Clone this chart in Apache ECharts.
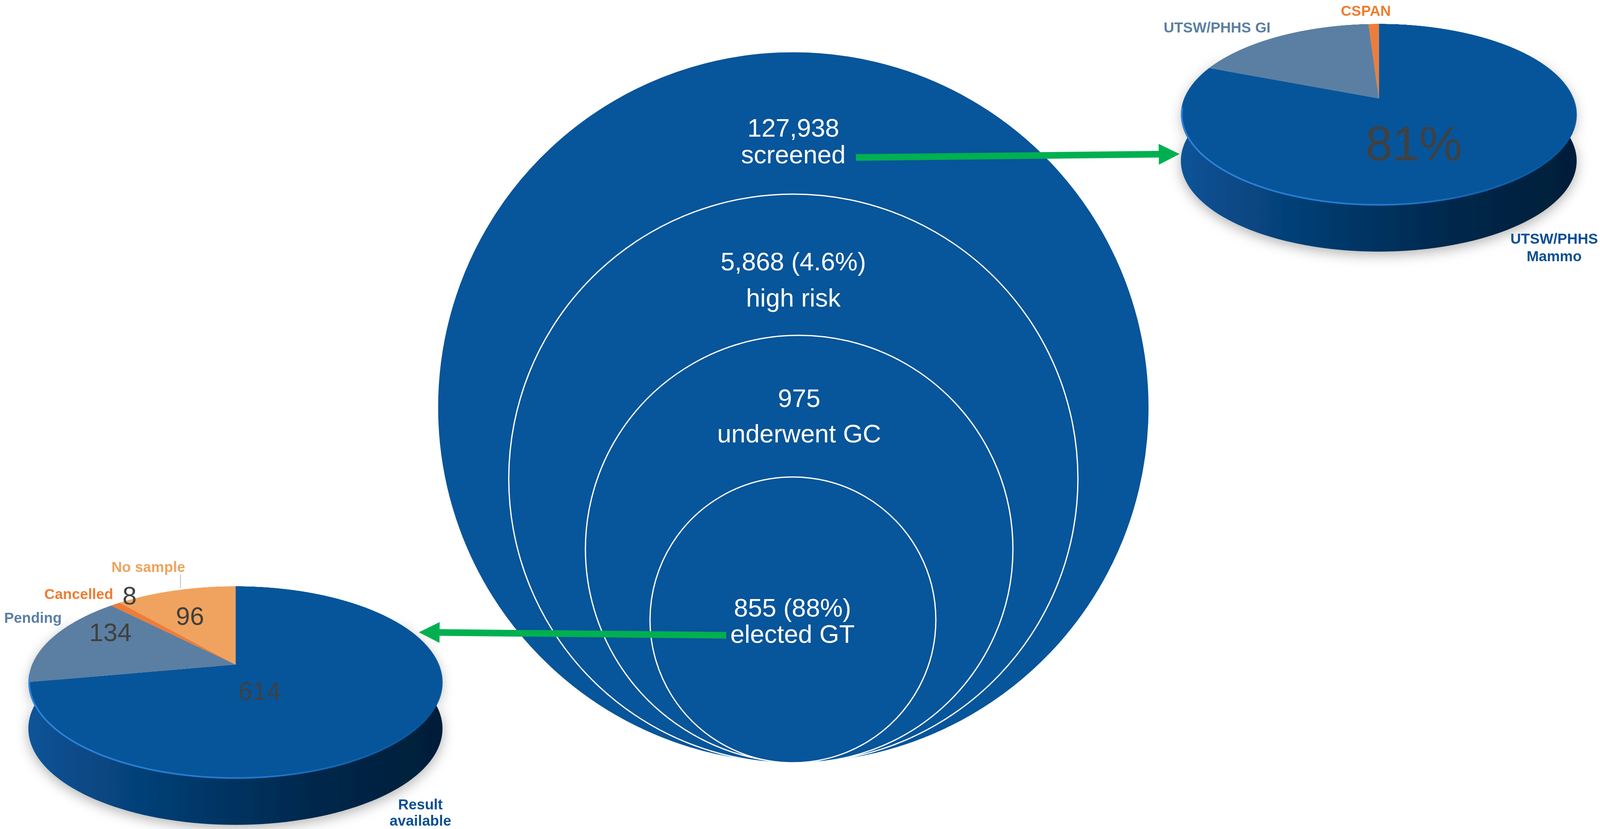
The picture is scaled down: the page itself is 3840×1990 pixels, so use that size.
<!DOCTYPE html>
<html>
<head>
<meta charset="utf-8">
<script src="https://cdn.jsdelivr.net/npm/echarts@6/dist/echarts.min.js"></script>
<style>
html,body{margin:0;padding:0;width:3840px;height:1990px;overflow:hidden;background:#ffffff;}
#under{position:absolute;left:0;top:0;width:3840px;height:1990px;z-index:0;}
#main{position:absolute;left:0;top:0;width:3840px;height:1990px;z-index:2;}
.pie{position:absolute;z-index:1;}
</style>
</head>
<body>
<div id="under"></div>
<div id="pieTop" class="pie"></div>
<div id="pieBottom" class="pie"></div>
<div id="main"></div>
<script>
// ---------------- DATA ----------------
const stageCounts = [127938, 5868, 975, 855];
const stageShares = ['', '4.6%', '', '88%'];
const stageNames = ['screened', 'high risk', 'underwent GC', 'elected GT'];

const sourceNames = ['UTSW/PHHS Mammo', 'UTSW/PHHS GI', 'CSPAN'];
const sourceLabels = ['UTSW/PHHS\nMammo', 'UTSW/PHHS GI', 'CSPAN'];
const sourceValues = [81, 18, 1];

const resultNames = ['Result available', 'Pending', 'Cancelled', 'No sample'];
const resultLabels = ['Result\navailable', 'Pending', 'Cancelled', 'No sample'];
const resultValues = [614, 134, 8, 96];

// ---------------- LAYOUT / STYLE ----------------
const W = 3840, H = 1990;
const FONT = '"Liberation Sans", Arial, Helvetica, sans-serif';

const circleLayout = [
  {cx: 1904, cy: 978,  r: 854, tx: 1904, ty: 339,  lh: 64},
  {cx: 1904, cy: 1149, r: 683, tx: 1904, ty: 671,  lh: 87},
  {cx: 1918, cy: 1318, r: 513, tx: 1918, ty: 998,  lh: 85},
  {cx: 1903, cy: 1488, r: 343, tx: 1902, ty: 1490, lh: 63}
];
const circleColor = '#07559a';

const arrowLayout = [
  [[2054, 378], [2806, 370]],
  [[1743, 1525], [1030, 1518]]
];
const leaderLayout = [[[433, 1379], [433, 1412]]];

// apex = pie centre on screen; yTop/yBot = top face extent; rx = half width; yBase = lowest point of side
const topPieGeom = {ax: 3309, ay: 236, yTop: 57, yBot: 493, rx: 475, yBase: 604};
const bottomPieGeom = {ax: 565, ay: 1595, yTop: 1407, yBot: 1869, rx: 497, yBase: 1980};

const sourceColors = ['#06559a', '#5b7fa2', '#ed7d3a'];
const resultColors = ['#06559a', '#5b7fa2', '#ed7d3a', '#f0a35e'];
const sourceLabelColors = ['#0c4f92', '#5b7fa3', '#ed7d31'];
const resultLabelColors = ['#0c4f92', '#5b7fa3', '#ed7d31', '#efa35e'];

const sourceNamePos = [{x: 3730, y: 593, lh: 42}, {x: 2921, y: 65}, {x: 3278, y: 25}];
const sourceValuePos = [{x: 3393, y: 345}, null, null];
const resultNamePos = [{x: 1009, y: 1949.5, lh: 39}, {x: 79, y: 1482}, {x: 189, y: 1425}, {x: 356, y: 1360}];
const resultValuePos = [{x: 623, y: 1659}, {x: 265, y: 1518}, {x: 311, y: 1430}, {x: 456, y: 1479}];

// ---------------- perspective geometry for the 3D-look pies ----------------
function solveView(g) {
  const Yt = g.ay - g.yTop, Yb = g.yBot - g.ay;
  const k = (Yb - Yt) / (Yb + Yt);
  const Rc = Yt * (1 + k);
  const R = g.rx * Math.sqrt(1 - k * k);
  const cosA = Rc / R, sinA = Math.sqrt(1 - cosA * cosA);
  const P = R * sinA / k;
  return {R, cosA, sinA, P, drop: g.yBase - g.yBot, aDeg: Math.acos(cosA) * 180 / Math.PI};
}
function project(g, v, x, y) {
  const yp = y * v.cosA;
  const zp = y * v.sinA;
  const s = 1 / (1 - zp / v.P);
  return [g.ax + x * s, g.ay + yp * s];
}
function rimPoint(g, v, phiDeg, r, dy) {
  const p = phiDeg * Math.PI / 180;
  const q = project(g, v, r * Math.sin(p), -r * Math.cos(p));
  return [q[0], q[1] + dy];
}

function buildPie(elId, g, v, names, values, colors) {
  const pad = 10;
  const c = v.R + pad, size = 2 * c;
  const el = document.getElementById(elId);
  el.style.left = (g.ax - c) + 'px';
  el.style.top = (g.ay - c) + 'px';
  el.style.width = size + 'px';
  el.style.height = size + 'px';
  el.style.transformOrigin = c + 'px ' + c + 'px';
  el.style.transform = 'perspective(' + v.P + 'px) rotateX(' + v.aDeg + 'deg)';
  const chart = echarts.init(el, null, {renderer: 'svg', width: size, height: size});
  chart.setOption({
    animation: false,
    backgroundColor: 'transparent',
    series: [{
      type: 'pie',
      silent: true,
      center: [c, c],
      radius: v.R,
      startAngle: 90,
      clockwise: true,
      label: {show: false},
      labelLine: {show: false},
      emphasis: {disabled: true},
      itemStyle: {borderWidth: 0},
      data: names.map((n, i) => ({name: n, value: values[i], itemStyle: {color: colors[i]}}))
    }]
  });
}

function wallShape(g, v) {
  const pts = [];
  for (let phi = 60; phi <= 300; phi += 2) pts.push(rimPoint(g, v, phi, v.R - 3, 0));
  for (let phi = 300; phi >= 60; phi -= 2) pts.push(rimPoint(g, v, phi, v.R, v.drop));
  return pts;
}
function rimLine(g, v) {
  const pts = [];
  for (let phi = 96; phi <= 264; phi += 2) pts.push(rimPoint(g, v, phi, v.R - 2, 0));
  return pts;
}
const wallFill = () => new echarts.graphic.LinearGradient(0, 0, 1, 0, [
  {offset: 0, color: '#0d5498'},
  {offset: 0.12, color: '#084a88'},
  {offset: 0.4, color: '#04386a'},
  {offset: 0.7, color: '#02274a'},
  {offset: 1, color: '#021e39'}
]);
const rimStroke = () => new echarts.graphic.LinearGradient(0, 0, 1, 0, [
  {offset: 0, color: 'rgba(50,135,225,0.9)'},
  {offset: 0.55, color: 'rgba(50,135,225,0.7)'},
  {offset: 0.85, color: 'rgba(50,135,225,0.2)'},
  {offset: 1, color: 'rgba(50,135,225,0.0)'}
]);

const topView = solveView(topPieGeom);
const bottomView = solveView(bottomPieGeom);
buildPie('pieTop', topPieGeom, topView, sourceNames, sourceValues, sourceColors);
buildPie('pieBottom', bottomPieGeom, bottomView, resultNames, resultValues, resultColors);

const under = echarts.init(document.getElementById('under'), null, {renderer: 'svg', width: W, height: H});
under.setOption({
  animation: false,
  backgroundColor: 'transparent',
  graphic: [
    {type: 'polygon', silent: true, shape: {points: wallShape(topPieGeom, topView)},
     style: {fill: wallFill(), shadowBlur: 30, shadowColor: 'rgba(0,0,0,0.30)', shadowOffsetY: 8}},
    {type: 'polygon', silent: true, shape: {points: wallShape(bottomPieGeom, bottomView)},
     style: {fill: wallFill(), shadowBlur: 30, shadowColor: 'rgba(0,0,0,0.30)', shadowOffsetY: 8}}
  ]
});

// ---------------- MAIN DIAGRAM ----------------
function stageText(i) {
  const head = stageCounts[i].toLocaleString('en-US') + (stageShares[i] ? ' (' + stageShares[i] + ')' : '');
  return head + '\n' + stageNames[i];
}

const circleData = circleLayout.map((c) => ({
  value: [c.cx, c.cy],
  symbolSize: 2 * c.r,
  label: {offset: [c.tx - c.cx, c.ty - c.cy], lineHeight: c.lh}
}));

const overlayGraphics = [
  {type: 'polyline', silent: true, z: 40, shape: {points: rimLine(topPieGeom, topView)},
   style: {stroke: rimStroke(), lineWidth: 4, fill: null}},
  {type: 'polyline', silent: true, z: 40, shape: {points: rimLine(bottomPieGeom, bottomView)},
   style: {stroke: rimStroke(), lineWidth: 4, fill: null}}
];
function addText(x, y, text, color, size, weight, lh) {
  overlayGraphics.push({
    type: 'text', silent: true, x: x, y: y, z: 50,
    style: {text: text, fill: color, fontSize: size, fontFamily: FONT, fontWeight: weight,
            align: 'center', verticalAlign: 'middle', lineHeight: lh || Math.round(size * 1.15)}
  });
}
const sourceTotal = sourceValues.reduce((a, b) => a + b, 0);
sourceLabels.forEach((t, i) => {
  const p = sourceNamePos[i];
  addText(p.x, p.y, t, sourceLabelColors[i], 35, 'bold', p.lh);
  if (sourceValuePos[i]) {
    const q = sourceValuePos[i];
    addText(q.x, q.y, Math.round(sourceValues[i] / sourceTotal * 100) + '%', '#404040', 116, 'normal');
  }
});
resultLabels.forEach((t, i) => {
  const p = resultNamePos[i];
  addText(p.x, p.y, t, resultLabelColors[i], 35, 'bold', p.lh);
  const q = resultValuePos[i];
  addText(q.x, q.y, String(resultValues[i]), '#404040', 61, 'normal');
});

const main = echarts.init(document.getElementById('main'), null, {renderer: 'svg', width: W, height: H});
main.setOption({
  animation: false,
  backgroundColor: 'transparent',
  grid: {left: 0, right: 0, top: 0, bottom: 0, containLabel: false},
  xAxis: {type: 'value', min: 0, max: W, show: false},
  yAxis: {type: 'value', min: 0, max: H, inverse: true, show: false},
  series: [
    {
      type: 'scatter',
      z: 2,
      silent: true,
      symbol: 'circle',
      itemStyle: {color: circleColor, borderColor: '#ffffff', borderWidth: 3, opacity: 1},
      label: {show: true, position: 'inside', color: '#ffffff', fontSize: 61, fontFamily: FONT,
              align: 'center', verticalAlign: 'middle', formatter: p => stageText(p.dataIndex)},
      emphasis: {disabled: true},
      data: circleData
    },
    {
      type: 'lines',
      coordinateSystem: 'cartesian2d',
      z: 20,
      silent: true,
      clip: false,
      symbol: ['none', 'triangle'],
      symbolSize: 50,
      lineStyle: {color: '#00b050', width: 16, opacity: 1, curveness: 0},
      data: arrowLayout.map(c => ({coords: c}))
    },
    {
      type: 'lines',
      coordinateSystem: 'cartesian2d',
      z: 20,
      silent: true,
      clip: false,
      symbol: ['none', 'none'],
      lineStyle: {color: '#bfbfbf', width: 2, opacity: 1, curveness: 0},
      data: leaderLayout.map(c => ({coords: c}))
    }
  ],
  graphic: overlayGraphics
});
</script>
</body>
</html>
